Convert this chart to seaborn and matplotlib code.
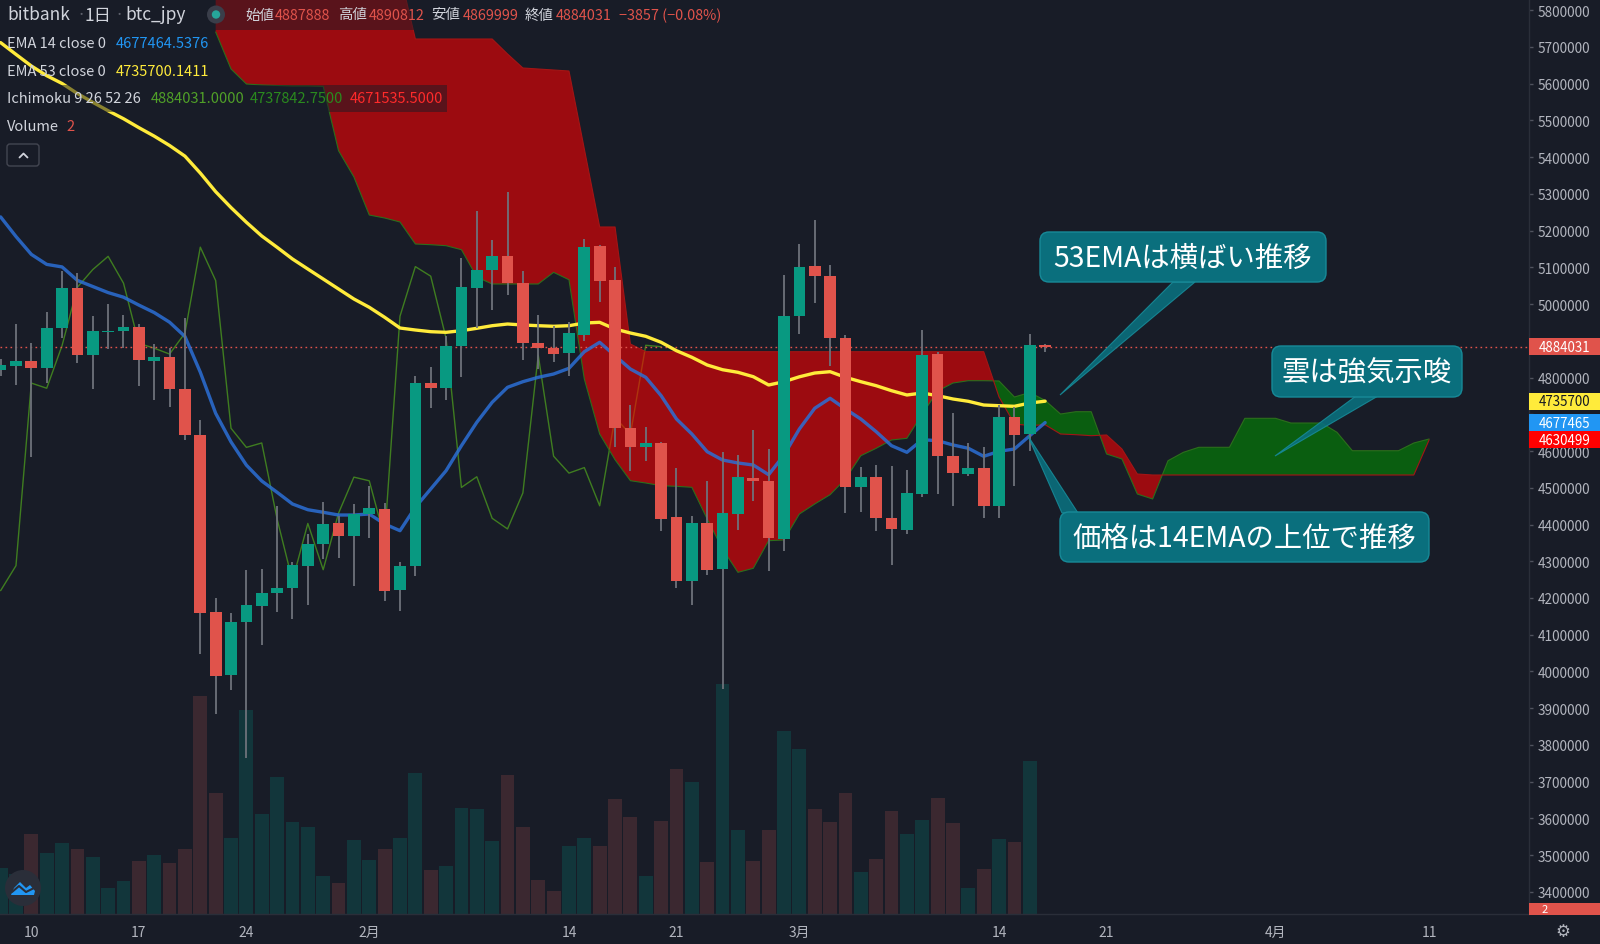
import numpy as np
import pandas as pd
import matplotlib
matplotlib.use("Agg")
import matplotlib.pyplot as plt
import matplotlib.transforms as mtransforms
from matplotlib.patches import FancyBboxPatch, Polygon, Rectangle, Circle
import seaborn as sns

# ---- daily candles, bitbank btc_jpy, 2022-01-08 .. 2022-03-17 ----
first_day = "2022-01-08"
opens = [4820000, 4832000, 4844000, 4826000, 4934000, 5045000, 4862000, 4924000, 4926000, 4937000,
         4845000, 4857000, 4770000, 4645000, 4162000, 3991000, 4134000, 4179000, 4213000, 4226000,
         4288000, 4347000, 4403000, 4368000, 4429000, 4442000, 4222000, 4288000, 4785000, 4771000,
         4887000, 5043000, 5094000, 5130000, 5057000, 4893000, 4880000, 4866000, 4917000, 5157000,
         5066000, 4662000, 4610000, 4622000, 4420000, 4247000, 4404000, 4279000, 4429000, 4527000,
         4519000, 4361000, 4968000, 5104000, 5076000, 4907000, 4501000, 4530000, 4417000, 4386000,
         4483000, 4864000, 4586000, 4538000, 4555000, 4451000, 4692000, 4646000, 4887888]
highs = [4850000, 4946000, 4894000, 4979000, 5089000, 5084000, 4967000, 5000000, 4971000, 4947000,
         4892000, 4880000, 4962000, 4685000, 4199000, 4160000, 4275000, 4280000, 4451000, 4297000,
         4374000, 4462000, 4424000, 4456000, 4504000, 4459000, 4297000, 4805000, 4828000, 4914000,
         5125000, 5253000, 5174000, 5306000, 5091000, 4970000, 4941000, 4952000, 5177000, 5162000,
         5100000, 4725000, 4665000, 4624000, 4553000, 4422000, 4519000, 4598000, 4589000, 4658000,
         4606000, 5079000, 5164000, 5229000, 5106000, 4916000, 4556000, 4562000, 4560000, 4548000,
         4930000, 4869000, 4703000, 4622000, 4610000, 4725000, 4719000, 4919000, 4890812]
lows = [4805000, 4779000, 4583000, 4784000, 4907000, 4841000, 4768000, 4877000, 4880000, 4778000,
        4740000, 4719000, 4629000, 4047000, 3883000, 3949000, 3765000, 4071000, 4163000, 4143000,
        4181000, 4306000, 4309000, 4233000, 4363000, 4193000, 4165000, 4261000, 4716000, 4740000,
        4801000, 4934000, 4985000, 5026000, 4849000, 4823000, 4843000, 4805000, 4900000, 5007000,
        4610000, 4547000, 4574000, 4383000, 4226000, 4181000, 4263000, 3952000, 4386000, 4465000,
        4274000, 4329000, 4919000, 5002000, 4832000, 4431000, 4435000, 4383000, 4291000, 4374000,
        4476000, 4483000, 4451000, 4531000, 4417000, 4417000, 4504000, 4599000, 4869999]
closes = [4834000, 4844000, 4826000, 4934000, 5045000, 4862000, 4926000, 4926000, 4937000, 4849000,
          4857000, 4768000, 4643000, 4158000, 3989000, 4135000, 4181000, 4214000, 4226000, 4290000,
          4347000, 4401000, 4368000, 4429000, 4444000, 4220000, 4288000, 4785000, 4771000, 4887000,
          5046000, 5094000, 5130000, 5057000, 4893000, 4880000, 4864000, 4921000, 5155000, 5064000,
          4662000, 4610000, 4622000, 4415000, 4247000, 4403000, 4277000, 4431000, 4529000, 4519000,
          4363000, 4967000, 5102000, 5076000, 4907000, 4501000, 4530000, 4417000, 4388000, 4486000,
          4861000, 4586000, 4540000, 4555000, 4451000, 4692000, 4645000, 4887888, 4884031]
ema14 = [5237300, 5184000, 5135300, 5108100, 5101200, 5064500, 5047900, 5031300, 5018800, 4997300,
         4976900, 4950700, 4911800, 4814600, 4702700, 4624900, 4561700, 4518500, 4487700, 4455900,
         4440300, 4433300, 4425900, 4425900, 4428600, 4401400, 4383200, 4446900, 4496700, 4546500,
         4614600, 4678200, 4732700, 4773500, 4788800, 4800700, 4809700, 4825200, 4870400, 4896000,
         4859500, 4823300, 4800700, 4750700, 4687200, 4646400, 4598200, 4575600, 4567500, 4562000,
         4535600, 4589200, 4660000, 4716400, 4743600, 4714500, 4687200, 4652700, 4614600, 4596600,
         4630900, 4628200, 4616500, 4607500, 4585700, 4599300, 4605600, 4641800, 4677465]
ema53 = [5711800, 5679700, 5648200, 5621800, 5600500, 5573200, 5549300, 5526300, 5504600, 5480300,
         5457200, 5431700, 5402700, 5356600, 5306000, 5262700, 5222700, 5185400, 5154600, 5122800,
         5095500, 5068300, 5041100, 5013900, 4991300, 4964100, 4934900, 4929500, 4924900, 4923200,
         4927600, 4934100, 4941200, 4945800, 4943100, 4941200, 4939600, 4941200, 4948500, 4950400,
         4932200, 4921300, 4912300, 4896000, 4873100, 4855200, 4834200, 4821400, 4814300, 4802400,
         4779800, 4788800, 4802100, 4812400, 4816000, 4800700, 4788800, 4777900, 4764300, 4752600,
         4758000, 4750700, 4741700, 4735400, 4725300, 4723400, 4721800, 4730800, 4735700]
volume = [45.7, 40.0, 79.7, 60.7, 70.7, 64.7, 56.7, 25.7, 32.7, 52.7,
          59.0, 50.7, 64.7, 217.7, 121.3, 75.7, 204.3, 100.0, 137.0, 92.3,
          87.3, 38.0, 30.7, 73.7, 53.7, 65.0, 76.0, 140.7, 44.0, 47.7,
          106.3, 104.7, 73.0, 139.3, 87.0, 34.3, 23.0, 68.0, 76.3, 68.3,
          115.0, 97.3, 38.3, 92.7, 144.7, 131.7, 52.0, 230.0, 83.7, 52.7,
          84.0, 182.7, 164.7, 105.0, 92.3, 121.3, 42.0, 54.7, 103.3, 80.3,
          93.7, 116.0, 91.3, 26.3, 45.0, 74.7, 72.3, 152.7, 0.5]

# ---- ichimoku leading spans (already displaced), 2022-01-22 .. 2022-04-11 ----
cloud_first_day = "2022-01-22"
span_a = [5740600, 5639900, 5599100, 5596400, 5595000, 5593700, 5593700, 5592800, 5417500, 5346000,
          5242500, 5234400, 5223500, 5163600, 5161700, 5159000, 5148100, 5073800, 5054700, 5054700,
          5054700, 5054700, 5086500, 5066400, 4796100, 4646400, 4576400, 4519300, 4513000, 4505700,
          4504000, 4501300, 4415000, 4333400, 4269900, 4280800, 4356000, 4357900, 4428600, 4455900,
          4481200, 4523900, 4587300, 4607500, 4630100, 4634700, 4700800, 4763400, 4785200, 4791500,
          4791500, 4790700, 4747100, 4759400, 4737843, 4700800, 4707100, 4707100, 4592000, 4578400,
          4483100, 4469500, 4573700, 4596600, 4610200, 4610200, 4610200, 4689100, 4689100, 4689100,
          4676300, 4676300, 4676300, 4651000, 4600900, 4600900, 4600900, 4600900, 4621900, 4632800]
span_b = [5900000, 5900000, 5900000, 5900000, 5900000, 5900000, 5900000, 5900000, 5900000, 5900000,
          5900000, 5900000, 5900000, 5721600, 5721600, 5721600, 5721600, 5721600, 5721600, 5680800,
          5642700, 5639900, 5637200, 5634500, 5422200, 5209900, 5209900, 4891400, 4870400, 4870400,
          4870400, 4870400, 4870400, 4870400, 4870400, 4870400, 4870400, 4870400, 4870400, 4870400,
          4870400, 4870400, 4870400, 4870400, 4870400, 4870400, 4870400, 4870400, 4870400, 4870400,
          4870400, 4747100, 4673600, 4669500, 4671536, 4646400, 4644500, 4641800, 4643700, 4605600,
          4537500, 4534800, 4534800, 4534800, 4534800, 4534800, 4534800, 4534800, 4534800, 4534800,
          4534800, 4534800, 4534800, 4534800, 4534800, 4534800, 4534800, 4534800, 4534800, 4630499]
lag_shift = 25

date_ticks = ["2022-01-10", "2022-01-17", "2022-01-24", "2022-02-01", "2022-02-14", "2022-02-21",
              "2022-03-01", "2022-03-14", "2022-03-21", "2022-04-01", "2022-04-11"]
date_labels = ["10", "17", "24", "2月", "14", "21", "3月", "14", "21", "4月", "11"]
price_ticks = list(range(3400000, 5800001, 100000))
hidden_ticks = [4700000, 4900000]   # covered by the last-value labels

BG = "#181c27"
TEXT = "#d1d4dc"
AXIS_TXT = "#b2b5be"
UP = "#089981"
DOWN = "#e0534b"
CALLOUT = "#0a6f7d"
LEG = 10.5

sns.set_theme(style="dark", rc={"axes.facecolor": BG, "figure.facecolor": BG,
                                "savefig.facecolor": BG, "axes.grid": False})
plt.rcParams["font.family"] = ["Noto Sans CJK JP", "DejaVu Sans"]
plt.rcParams["axes.unicode_minus"] = False

o = np.array(opens); h = np.array(highs); l = np.array(lows); c = np.array(closes)
days = np.arange(len(c))
t0 = pd.Timestamp(first_day)
cloud_days = np.arange(len(span_a)) + (pd.Timestamp(cloud_first_day) - t0).days
tick_pos = [(pd.Timestamp(d) - t0).days for d in date_ticks]
up = c >= o

fig = plt.figure(figsize=(16, 9.45), dpi=100)
rect = [0, 30 / 945, 1529 / 1600, 915 / 945]
ax_vol = fig.add_axes(rect)
ax = fig.add_axes(rect)
ax.patch.set_alpha(0)

# volume underneath
ax_vol.bar(days, volume, width=0.9, color=np.where(up, "#12363b", "#3b2830"), linewidth=0)
ax_vol.set_xlim(-0.04, 99.5)
ax_vol.set_ylim(0, 915)
ax_vol.set_xticks([])
ax_vol.set_yticks([])
for s in ax_vol.spines.values():
    s.set_visible(False)

# lagging span
sns.lineplot(x=days[:len(c) - lag_shift], y=c[lag_shift:], ax=ax, color="#3f7d20", lw=1.0, zorder=1.5)

# cloud
a = np.array(span_a); b = np.array(span_b)
ax.fill_between(cloud_days, a, b, where=a >= b, interpolate=True, color="#009000", alpha=0.575, lw=0, zorder=2)
ax.fill_between(cloud_days, a, b, where=a < b, interpolate=True, color="#ff0000", alpha=0.575, lw=0, zorder=2)
ax.plot(cloud_days, a, color="#2c6e1c", lw=0.8, zorder=2.1)
ax.plot(cloud_days, b, color="#a31515", lw=0.8, zorder=2.1)

# EMAs
sns.lineplot(x=days, y=ema14, ax=ax, color="#2b6fd6", lw=2.4, alpha=0.85, zorder=3.4)
sns.lineplot(x=days, y=ema53, ax=ax, color="#ffeb3b", lw=2.4, zorder=3.5)

# last price line
ax.axhline(c[-1], color=DOWN, lw=1, ls=(0, (1.2, 2.4)), zorder=3)

# candles
ax.vlines(days, l, h, color="#6e727b", lw=1.3, zorder=4.5)
ax.bar(days, np.maximum(np.abs(c - o), 2500), bottom=np.minimum(o, c), width=0.76,
       color=np.where(up, UP, DOWN), linewidth=0, zorder=5)

ax.set_xlim(-0.04, 99.5)
ax.set_ylim(3339840, 5830480)
ax.set_xlabel("")
ax.set_ylabel("")
ax.yaxis.tick_right()
ax.set_yticks(price_ticks)
ax.set_yticklabels(["" if p in hidden_ticks else f"{p}" for p in price_ticks])
ax.tick_params(axis="y", length=3, width=1, color="#50535e", labelcolor=AXIS_TXT,
               labelsize=9.8, pad=3, direction="out")
ax.set_xticks(tick_pos)
ax.set_xticklabels(date_labels)
ax.tick_params(axis="x", length=3, width=1, color="#50535e", labelcolor=AXIS_TXT,
               labelsize=10, pad=5, direction="out")
for side in ("top", "left"):
    ax.spines[side].set_visible(False)
for side in ("right", "bottom"):
    ax.spines[side].set_color("#2a2e39")
    ax.spines[side].set_linewidth(1)
ax.grid(False)

# price labels on the right scale
blend = mtransforms.blended_transform_factory(ax.transAxes, ax.transData)
per_px = (ax.get_ylim()[1] - ax.get_ylim()[0]) / 915
box_w = 71 / 1529
box_h = 17 * per_px
for val, fc, tc in [(c[-1], DOWN, "white"), (ema53[-1], "#ffeb3b", "#131722"),
                    (ema14[-1], "#2196f3", "white"), (span_b[-1], "#ff0000", "white")]:
    ax.add_patch(Rectangle((1.0, val - box_h / 2), box_w, box_h, transform=blend,
                           fc=fc, ec="none", clip_on=False, zorder=6))
    ax.text(1.0 + box_w / 2, val, f"{round(val)}", transform=blend, ha="center", va="center",
            color=tc, fontsize=9.6, zorder=7, clip_on=False)

# ---- overlay in pixel coordinates for legend and notes ----
ov = fig.add_axes([0, 0, 1, 1], zorder=10)
ov.set_xlim(0, 1600)
ov.set_ylim(945, 0)
ov.axis("off")

ov.add_patch(Rectangle((1529, 904), 71, 12, fc=DOWN, ec="none"))
ov.text(1545, 910, "2", color="white", fontsize=8, ha="center", va="center")

ov.add_patch(Rectangle((0, 0), 722, 31, fc=BG, alpha=0.5, lw=0))
ov.text(7, 15.5, "bitbank", fontsize=12.5, color=TEXT, va="center")
ov.text(76, 15.5, "·", fontsize=12, color="#5d606b", va="center")
ov.text(85, 15.5, "1日", fontsize=12.5, color=TEXT, va="center")
ov.text(115, 15.5, "·", fontsize=12, color="#5d606b", va="center")
ov.text(125, 15.5, "btc_jpy", fontsize=12.5, color=TEXT, va="center")
ov.add_patch(Circle((216, 15.5), 9, fc="#3a3e4a", ec="none"))
ov.add_patch(Circle((216, 15.5), 4.2, fc="#26a69a", ec="none"))
for x, s, col in [(245, "始値", TEXT), (275, "4887888", DOWN), (338, "高値", TEXT), (369, "4890812", DOWN),
                  (431, "安値", TEXT), (463, "4869999", DOWN), (525, "終値", TEXT), (556, "4884031", DOWN),
                  (619, "−3857 (−0.08%)", DOWN)]:
    ov.text(x, 15.5, s, fontsize=10.4, color=col, va="center")

ov.text(7, 44, "EMA 14 close 0", fontsize=LEG, color=TEXT, va="center")
ov.text(115.6, 44, "4677464.5376", fontsize=LEG, color="#2196f3", va="center")
ov.text(7, 71.5, "EMA 53 close 0", fontsize=LEG, color=TEXT, va="center")
ov.text(115.6, 71.5, "4735700.1411", fontsize=LEG, color="#ffeb3b", va="center")
ov.add_patch(Rectangle((3, 86), 444, 27, fc=BG, alpha=0.5, lw=0))
ov.text(7, 99, "Ichimoku 9 26 52 26", fontsize=LEG, color=TEXT, va="center")
ov.text(150.5, 99, "4884031.0000", fontsize=LEG, color="#50a028", va="center")
ov.text(250, 99, "4737842.7500", fontsize=LEG, color="#2a8a1e", va="center")
ov.text(349.5, 99, "4671535.5000", fontsize=LEG, color="#ff2a2a", va="center")
ov.text(7, 127, "Volume", fontsize=LEG, color=TEXT, va="center")
ov.text(66, 127, "2", fontsize=LEG, color=DOWN, va="center")
ov.add_patch(FancyBboxPatch((7, 145), 32, 22, boxstyle="round,pad=0,rounding_size=3",
                            fc="none", ec="#434651", lw=1))
ov.plot([19.5, 23.5, 27.5], [158.5, 154.5, 158.5], color=TEXT, lw=1.3)

# callouts
notes = [
    ("53EMAは横ばい推移", (1040, 233, 286, 50), [(1173, 283), (1195, 283), (1060, 396)]),
    ("雲は強気示唆", (1272, 347, 190, 51), [(1356, 397), (1378, 397), (1275, 457)]),
    ("価格は14EMAの上位で推移", (1060, 513, 369, 50), [(1062, 514), (1078, 514), (1028, 437)]),
]
for txt, (x0, y0, w, hh), tri in notes:
    ov.add_patch(Polygon(tri, closed=True, fc=CALLOUT, ec="#178a98", lw=0.8, alpha=0.9))
    ov.add_patch(FancyBboxPatch((x0, y0), w, hh, boxstyle="round,pad=0,rounding_size=9",
                                fc=CALLOUT, ec="#178a98", lw=1))
    ov.text(x0 + w / 2, y0 + hh / 2 + 1, txt, fontsize=20.4, color="white", ha="center", va="center")

# logo and settings glyph
ov.add_patch(Circle((23, 889), 18, fc="#2a2e39", ec="none"))
ov.add_patch(Polygon([(11, 896), (14, 889), (20, 883), (26, 889), (30, 886), (35, 892), (34, 896)],
                     closed=True, fc="#2196f3", ec="none"))
ov.plot([12, 19, 26, 34], [893, 887, 893, 889], color="#2a2e39", lw=1.5)
ov.text(1563, 932, "⚙", fontsize=12, color=AXIS_TXT, ha="center", va="center", family="DejaVu Sans")

fig.savefig("out.png", dpi=100, facecolor=BG)
